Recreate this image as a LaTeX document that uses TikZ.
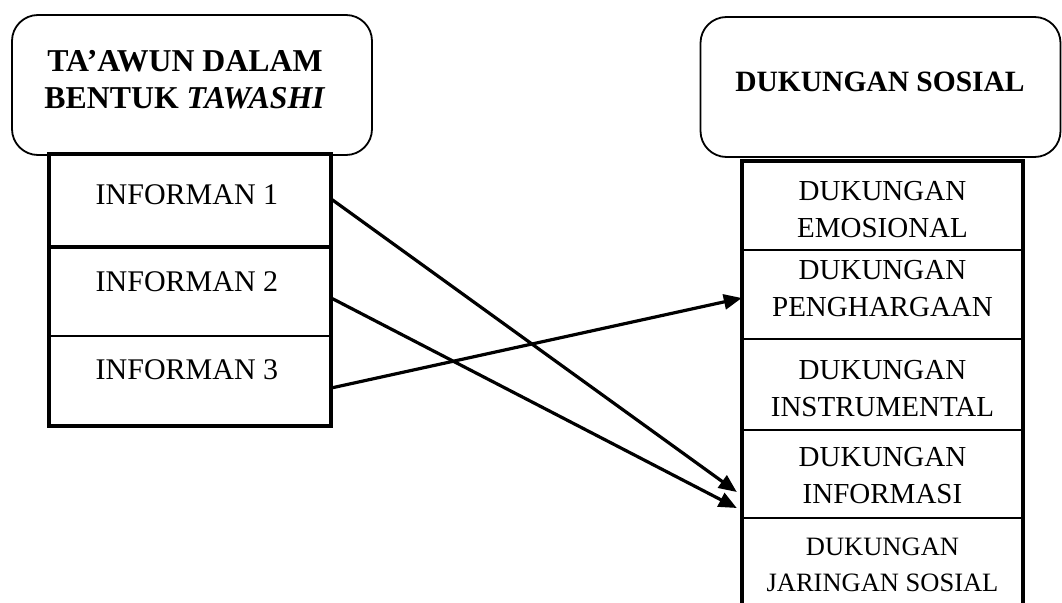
\documentclass[tikz,border=0pt]{standalone}
\usepackage{fontspec}
\setmainfont{Liberation Serif}
\usetikzlibrary{arrows.meta}
\tikzset{
  titlebox/.style={draw, line width=1.8pt, rounded corners=26pt, inner sep=0pt},
  cell/.style={draw, line width=2.4pt, inner sep=0pt},
  txt/.style={inner sep=0pt, align=center, font=\fontsize{29}{37}\selectfont},
  ttl/.style={inner sep=0pt, align=center, font=\fontsize{29.5}{37}\selectfont\bfseries},
  arr/.style={line width=3.2pt, -{Triangle[length=18pt,width=15pt]}},
  frame/.style={draw, line width=3.4pt}
}
\begin{document}
\begin{tikzpicture}[x=1pt,y=-1pt]
\useasboundingbox (0,0) rectangle (1062,602);
\begin{scope}
\clip (0,0) rectangle (1062,602);
% left title
\node[titlebox, minimum width=360pt, minimum height=140pt] (t1) at (192,85) {};
\node[ttl, font=\fontsize{31.8}{37}\selectfont\bfseries] (t1t) at (185,80) {TA'AWUN DALAM\\BENTUK \textit{TAWASHI}};
% right title
\node[titlebox, minimum width=360pt, minimum height=140pt] (t2) at (880.5,87) {};
\node[ttl] (t2t) at (880,82) {DUKUNGAN SOSIAL};
% left stack
\node[cell, minimum width=280pt, minimum height=91pt] (i1) at (190,200.5) {};
\node[cell, minimum width=280pt, minimum height=90pt] (i2) at (190,291) {};
\node[cell, minimum width=280pt, minimum height=89pt] (i3) at (190,380.5) {};
\draw[frame] (i1.north west) rectangle (i3.south east);
\draw[line width=3.6pt] (i1.south west) -- (i1.south east);
\node[txt, font=\fontsize{30}{37}\selectfont] (i1t) at (187,195) {INFORMAN 1};
\node[txt, font=\fontsize{30}{37}\selectfont] (i2t) at (187,282) {INFORMAN 2};
\node[txt, font=\fontsize{30}{37}\selectfont] (i3t) at (187,370) {INFORMAN 3};
% right stack
\node[cell, minimum width=279pt, minimum height=88pt] (r1) at (882.5,206) {};
\node[cell, minimum width=279pt, minimum height=89pt] (r2) at (882.5,294.5) {};
\node[cell, minimum width=279pt, minimum height=91pt] (r3) at (882.5,384.5) {};
\node[cell, minimum width=279pt, minimum height=88pt] (r4) at (882.5,474) {};
\node[cell, minimum width=279pt, minimum height=100pt] (r5) at (882.5,568) {};
\draw[frame] (r1.north west) rectangle (r5.south east);
\node[txt] (r1t) at (882.5,210) {DUKUNGAN\\EMOSIONAL};
\node[txt] (r2t) at (882.5,289) {DUKUNGAN\\PENGHARGAAN};
\node[txt] (r3t) at (882.5,389) {DUKUNGAN\\INSTRUMENTAL};
\node[txt] (r4t) at (882.5,476) {DUKUNGAN\\INFORMASI};
\node[txt, font=\fontsize{26.5}{36}\selectfont] (r5t) at (882.5,565) {DUKUNGAN\\JARINGAN SOSIAL};
% arrows
\draw[arr] ([yshift=1.5pt]i1.east) -- ([xshift=-5pt,yshift=-18pt]r4.west);
\draw[arr] ([yshift=-7pt]i2.east) -- ([xshift=-5pt,yshift=-34pt]r4.west);
\draw[arr] ([yshift=-7.5pt]i3.east) -- ([yshift=-3.5pt]r2.west);
\end{scope}
\end{tikzpicture}
\end{document}
